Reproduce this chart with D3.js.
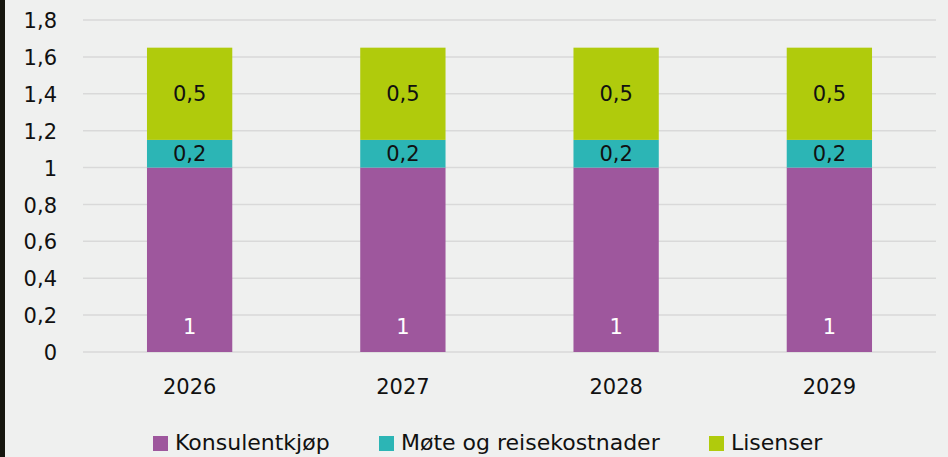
<!DOCTYPE html>
<html><head><meta charset="utf-8">
<script src="https://cdn.jsdelivr.net/npm/d3@7"></script>
<style>html,body{margin:0;padding:0;background:#eff0ef;}svg{display:block;}</style>
</head><body>
<svg id="c" width="948" height="457"></svg>
<script>
const categories = ["2026","2027","2028","2029"];
const seriesNames = ["Konsulentkjøp","Møte og reisekostnader","Lisenser"];
const konsulentkjop = [1,1,1,1];
const moteReise = [0.15,0.15,0.15,0.15];
const lisenser = [0.5,0.5,0.5,0.5];
const yTicks = [0,0.2,0.4,0.6,0.8,1,1.2,1.4,1.6,1.8];
const colors = ["#9e579d","#2cb5b5","#b0cb0c"];
const labelColors = ["#ffffff","#111111","#111111"];

const font = "'DejaVu Sans', sans-serif";
const svg = d3.select("#c");
svg.append("rect").attr("width",948).attr("height",457).attr("fill","#eff0ef");
svg.append("rect").attr("x",0).attr("y",0).attr("width",5).attr("height",457).attr("fill","#16160f");

const x = d3.scaleBand().domain(categories).range([83,936]).paddingInner(0.6).paddingOuter(0.3);
const y = d3.scaleLinear().domain([0,1.8]).range([352,20]);

// gridlines
svg.append("g").selectAll("line").data(yTicks).join("line")
  .attr("x1",83).attr("x2",936).attr("y1",d=>y(d)).attr("y2",d=>y(d))
  .attr("stroke","#d9d9d9").attr("stroke-width",1.5);

const yAxis = d3.axisLeft(y).tickValues(yTicks).tickSize(0).tickPadding(0)
  .tickFormat(d=>String(d).replace(".",","));
const ga = svg.append("g").attr("transform","translate(57,0)").call(yAxis);
ga.select(".domain").remove();
ga.selectAll("text").attr("font-family",font).attr("font-size",21).attr("fill","#111").attr("dy","0.36em");

const xAxis = d3.axisBottom(x).tickSize(0).tickPadding(0);
const gx = svg.append("g").attr("transform","translate(0,386)").call(xAxis);
gx.select(".domain").remove();
gx.selectAll("text").attr("font-family",font).attr("font-size",21).attr("fill","#111").attr("y",0).attr("dy","0.36em");

const stackData = categories.map((c,i)=>({cat:c, s0:konsulentkjop[i], s1:moteReise[i], s2:lisenser[i]}));
const stack = d3.stack().keys(["s0","s1","s2"])(stackData);

const fmt = v => { const r = Math.round(v*10+1e-6)/10; return String(r).replace(".",","); };

stack.forEach((layer,si)=>{
  const g = svg.append("g");
  g.selectAll("rect").data(layer).join("rect")
    .attr("x",d=>x(d.data.cat)).attr("width",x.bandwidth())
    .attr("y",d=>y(d[1])).attr("height",d=>y(d[0])-y(d[1]))
    .attr("fill",colors[si]);
  g.selectAll("text").data(layer).join("text")
    .attr("x",d=>x(d.data.cat)+x.bandwidth()/2)
    .attr("y",d=> si===0 ? y(d[0])-26 : (y(d[0])+y(d[1]))/2)
    .attr("dy","0.36em").attr("text-anchor","middle")
    .attr("font-family",font).attr("font-size",21).attr("fill",labelColors[si])
    .text(d=>fmt(d[1]-d[0]));
});

// legend
const legX = [153,379,709];
const lg = svg.append("g");
seriesNames.forEach((n,i)=>{
  lg.append("rect").attr("x",legX[i]).attr("y",436).attr("width",15).attr("height",15).attr("fill",colors[i]);
  lg.append("text").attr("x",legX[i]+22).attr("y",449.5)
    .attr("font-family",font).attr("font-size",22).attr("fill","#111").text(n);
});
</script>
</body></html>
